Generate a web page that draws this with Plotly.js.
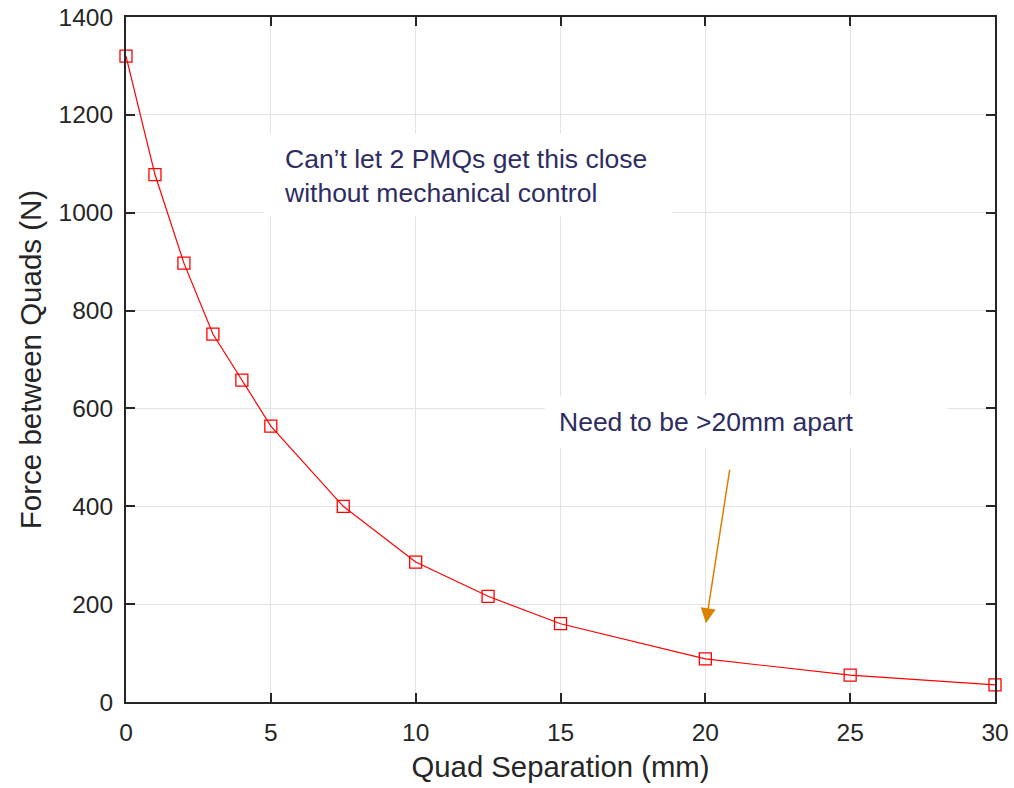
<!DOCTYPE html>
<html>
<head>
<meta charset="utf-8">
<script src="https://cdn.plot.ly/plotly-3.0.1.min.js"></script>
<style>html,body{margin:0;padding:0;background:#fff;}#chart{width:1014px;height:788px;}</style>
</head>
<body>
<div id="chart"></div>
<script>
const separation = [0, 1, 2, 3, 4, 5, 7.5, 10, 12.5, 15, 20, 25, 30];
const force = [1320, 1078, 897, 752, 658, 564, 400, 286, 216, 160, 88, 55, 35];
const xTicks = [0, 5, 10, 15, 20, 25, 30];
const yTicks = [0, 200, 400, 600, 800, 1000, 1200, 1400];
const note1 = "Can\u2019t let 2 PMQs get this close<br>without mechanical control";
const note2 = "Need to be >20mm apart";

const FONT = 'Liberation Sans, Arial, sans-serif';
const axisCommon = {
  showline: true, linecolor: '#262626', linewidth: 2, mirror: 'ticks',
  ticks: 'inside', ticklen: 9, tickwidth: 2, tickcolor: '#262626',
  showgrid: true, gridcolor: '#e3e3e3', gridwidth: 1, zeroline: false,
  tickfont: {family: FONT, size: 24.5, color: '#262626'}
};

const trace = {
  x: separation, y: force, type: 'scatter', mode: 'lines+markers',
  line: {color: '#ff0000', width: 1.2},
  marker: {symbol: 'square-open', size: 12, color: '#ff0000', line: {width: 1.3, color: '#ff0000'}},
  cliponaxis: false
};

const layout = {
  width: 1014, height: 788,
  margin: {l: 126, r: 19, t: 17, b: 86},
  paper_bgcolor: '#ffffff', plot_bgcolor: '#ffffff',
  showlegend: false,
  xaxis: Object.assign({}, axisCommon, {
    range: [0, 30], tickvals: xTicks, ticklabelstandoff: 8,
    title: {text: 'Quad Separation (mm)', font: {family: FONT, size: 29.3, color: '#262626'}, standoff: 11}
  }),
  yaxis: Object.assign({}, axisCommon, {
    range: [0, 1400], tickvals: yTicks, ticklabelstandoff: 6,
    title: {text: 'Force between Quads (N)', font: {family: FONT, size: 29.5, color: '#262626'}, standoff: 8}
  }),
  shapes: [
    {type: 'rect', xref: 'x', yref: 'y', x0: 4.76, x1: 18.85, y0: 993, y1: 1161,
     fillcolor: '#ffffff', line: {width: 0}, layer: 'between'},
    {type: 'rect', xref: 'x', yref: 'y', x0: 14.46, x1: 28.37, y0: 519, y1: 625,
     fillcolor: '#ffffff', line: {width: 0}, layer: 'between'}
  ],
  annotations: [
    {
      x: 5.43, y: 1075, xref: 'x', yref: 'y', xanchor: 'left', yanchor: 'middle',
      text: note1, showarrow: false, align: 'left', borderpad: 0,
      font: {family: FONT, size: 26.5, color: '#2e2d62'}
    },
    {
      x: 14.92, y: 572, xref: 'x', yref: 'y', xanchor: 'left', yanchor: 'middle',
      text: note2, showarrow: false, align: 'left', borderpad: 0,
      font: {family: FONT, size: 26.5, color: '#2e2d62'}
    },
    {
      x: 20.02, y: 161, xref: 'x', yref: 'y', axref: 'x', ayref: 'y',
      ax: 20.85, ay: 478, text: '', showarrow: true,
      arrowhead: 2, arrowsize: 2, arrowwidth: 1.5, arrowcolor: '#d98200'
    }
  ]
};

Plotly.newPlot('chart', [trace], layout, {displayModeBar: false, staticPlot: true});
</script>
</body>
</html>
